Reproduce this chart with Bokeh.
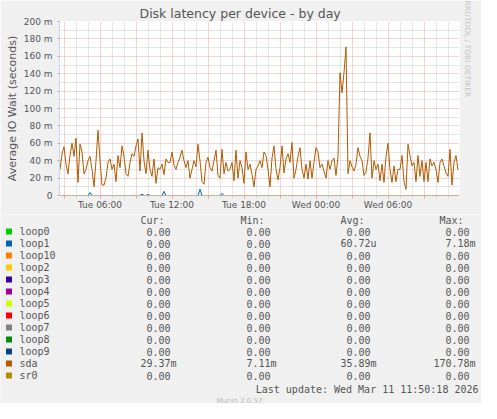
import numpy as np
import pandas as pd
from bokeh.plotting import figure
from bokeh.models import (Range1d, FixedTicker, CustomJSTickFormatter, Title, ColumnDataSource)
from bokeh.layouts import column, row
from bokeh.embed import file_html
from bokeh.resources import INLINE
from bokeh.core.properties import value

# ---------------- data ----------------
title_text = "Disk latency per device - by day"
y_axis_text = "Average IO Wait (seconds)"
side_text = "RRDTOOL / TOBI OETIKER"
last_update_text = "Last update: Wed Mar 11 11:50:18 2026"
version_text = "Munin 2.0.57"

series_names = ["loop0", "loop1", "loop10", "loop2", "loop3", "loop4", "loop5",
                "loop6", "loop7", "loop8", "loop9", "sda", "sr0"]
series_colors = ["#00CC00", "#0066B3", "#FF8000", "#FFCC00", "#330099", "#990099",
                 "#CCFF00", "#FF0000", "#808080", "#008F00", "#00487D", "#B35A00", "#B38F00"]
cur_values = [0, 0, 0, 0, 0, 0, 0, 0, 0, 0, 0, 29.37e-3, 0]
min_values = [0, 0, 0, 0, 0, 0, 0, 0, 0, 0, 0, 7.11e-3, 0]
avg_values = [0, 60.72e-6, 0, 0, 0, 0, 0, 0, 0, 0, 0, 35.89e-3, 0]
max_values = [0, 7.18e-3, 0, 0, 0, 0, 0, 0, 0, 0, 0, 170.78e-3, 0]
column_headers = ["Cur:", "Min:", "Avg:", "Max:"]

sample_start = "2026-03-10 02:40"
sample_step = "10min"

# sda average wait, milliseconds, one value every 10 minutes
sda_ms = [
    30, 48, 56, 36, 25, 46, 60, 45, 66, 15,
    59, 50, 25, 30, 40, 45, 30, 10, 40, 75,
    40, 12, 12, 20, 38, 42, 30, 36, 16, 46,
    32, 57, 45, 25, 22, 38, 48, 45, 57, 65,
    28, 72, 40, 25, 52, 30, 22, 42, 14, 32,
    30, 36, 24, 42, 38, 38, 50, 35, 30, 38,
    44, 52, 40, 32, 40, 20, 30, 40, 33, 59,
    40, 16, 13, 38, 44, 32, 28, 40, 52, 23,
    20, 53, 25, 38, 28, 30, 38, 17, 52, 20,
    40, 32, 14, 50, 30, 36, 24, 10, 30, 34,
    40, 32, 50, 46, 30, 10, 43, 57, 30, 18,
    32, 57, 26, 42, 48, 38, 61, 20, 30, 45,
    55, 30, 20, 36, 19, 40, 20, 38, 55, 50,
    32, 36, 28, 20, 40, 30, 40, 43, 23, 45,
    141, 118, 141, 170.78, 25, 40, 33, 28, 36, 55,
    45, 40, 23, 27, 43, 72, 20, 40, 30, 36,
    17, 36, 15, 45, 60, 30, 15, 34, 16, 30,
    30, 46, 16, 7.11, 59, 46, 34, 38, 16, 46,
    22, 40, 16, 38, 16, 42, 34, 38, 30, 15,
    38, 42, 34, 26, 22, 53, 12, 38, 46, 29.37,
]
# loop1: zero except for a few small spikes (sample index -> ms)
loop1_spike_index = [15, 41, 44, 52, 70, 81]
loop1_spike_ms = [3.5, 1.5, 1.2, 4.8, 7.18, 2.5]

y_tick_values = [0, 0.02, 0.04, 0.06, 0.08, 0.1, 0.12, 0.14, 0.16, 0.18, 0.2]
y_tick_labels = ["0", "20 m", "40 m", "60 m", "80 m", "100 m", "120 m",
                 "140 m", "160 m", "180 m", "200 m"]
x_label_times = ["2026-03-10 06:00", "2026-03-10 12:00", "2026-03-10 18:00",
                 "2026-03-11 00:00", "2026-03-11 06:00"]
x_tick_labels = ["Tue 06:00", "Tue 12:00", "Tue 18:00", "Wed 00:00", "Wed 06:00"]

# ---------------- build ----------------
n = len(sda_ms)
times = pd.date_range(sample_start, periods=n, freq=sample_step)
series = {name: np.zeros(n) for name in series_names}
series["sda"] = np.array(sda_ms, dtype=float) / 1000.0
for i, v in zip(loop1_spike_index, loop1_spike_ms):
    series["loop1"][i] = v / 1000.0

FONT = "DejaVu Sans"
MONO = "DejaVu Sans Mono"
TXT = "#555555"
BG = "#F0F0F0"

W, H1, H2 = 481, 214, 189
p = figure(width=W, height=H1, x_axis_type="datetime",
           x_range=Range1d(pd.Timestamp("2026-03-10 02:37:30"), pd.Timestamp("2026-03-11 11:57:30")),
           y_range=Range1d(0, 0.2),
           output_backend="svg", toolbar_location=None,
           min_border_left=59, min_border_right=22, min_border_top=21, min_border_bottom=19)
p.background_fill_color = "white"
p.border_fill_color = BG
p.outline_line_color = None

p.title.text = title_text
p.title.align = "left"
p.title.offset = 80
p.title.standoff = 2
p.title.text_font = FONT
p.title.text_font_size = "12.5px"
p.title.text_font_style = "normal"
p.title.text_color = TXT

p.add_layout(Title(text=side_text, align="left", offset=-21, standoff=6,
                   text_font=FONT, text_font_size="7.5px", text_font_style="normal",
                   text_color="#c4c4c4"), "right")

src = ColumnDataSource(dict(t=times, **series))
for name, col in zip(series_names, series_colors):
    p.line("t", name, source=src, line_color=col, line_width=1)

# axes / ticks
major_t = pd.date_range("2026-03-10 03:00", "2026-03-11 09:00", freq="3h")
minor_t = [t for t in pd.date_range("2026-03-10 03:00", "2026-03-11 11:00", freq="1h") if t.hour % 3]
to_ms = lambda ts: [pd.Timestamp(t).value / 1e6 for t in ts]
p.xaxis.ticker = FixedTicker(ticks=to_ms(major_t), minor_ticks=to_ms(minor_t))
p.xaxis.formatter = CustomJSTickFormatter(
    args=dict(tv=to_ms(x_label_times), tl=x_tick_labels),
    code="const i = tv.findIndex(t => Math.abs(t - tick) < 1000); return i < 0 ? '' : tl[i];")
y_minor = [v + 0.01 for v in y_tick_values[:-1]]
p.yaxis.ticker = FixedTicker(ticks=y_tick_values, minor_ticks=y_minor)
p.yaxis.formatter = CustomJSTickFormatter(
    args=dict(tv=y_tick_values, tl=y_tick_labels),
    code="const i = tv.findIndex(t => Math.abs(t - tick) < 1e-9); return i < 0 ? '' : tl[i];")

for ax in (p.xaxis[0], p.yaxis[0]):
    ax.major_label_text_font = FONT
    ax.major_label_text_font_size = "9px"
    ax.major_label_text_color = TXT
    ax.major_tick_in = 0
p.xaxis.axis_line_color = "#c2b494"
p.xaxis.major_tick_out = 3
p.xaxis.minor_tick_out = 2
p.xaxis.minor_tick_in = 0
p.xaxis.major_tick_line_color = "#e8a0a0"
p.xaxis.minor_tick_line_color = "#c8c8c8"
p.xaxis.major_label_standoff = 1
p.yaxis.axis_line_color = "#cfd6f8"
p.yaxis.major_tick_out = 2
p.yaxis.minor_tick_out = 0
p.yaxis.major_tick_line_color = "#b0b0b0"
p.yaxis.major_label_standoff = 5
p.yaxis.axis_label = y_axis_text
p.yaxis.axis_label_standoff = 2
p.yaxis.axis_label_text_font = FONT
p.yaxis.axis_label_text_font_size = "11px"
p.yaxis.axis_label_text_font_style = "normal"
p.yaxis.axis_label_text_color = TXT

for g in (p.xgrid[0], p.ygrid[0]):
    g.grid_line_color = "#eaa8a8"
    g.grid_line_dash = "1 1"
    g.minor_grid_line_color = "#cccccc"
    g.minor_grid_line_dash = "1 1"

# ---------------- legend figure ----------------
q = figure(width=W, height=H2, x_range=Range1d(8, 489), y_range=Range1d(411, 222),
           output_backend="svg", toolbar_location=None,
           min_border_left=0, min_border_right=0, min_border_top=0, min_border_bottom=0,
           x_axis_location=None, y_axis_location=None)
q.grid.visible = False
q.background_fill_color = BG
q.border_fill_color = BG
q.outline_line_color = None

def fmt(v):
    if v == 0:
        return "%.2f" % 0, ""
    if v >= 1e-3:
        return "%.2f" % (v * 1e3), "m"
    return "%.2f" % (v * 1e6), "u"

rows_y = [239 + 12 * k for k in range(len(series_names))]
header_x = [148, 248, 348, 447]
col_end = [178, 278, 378, 477]
q.text(x=header_x, y=[227.5] * 4, text=column_headers, text_font=value(MONO),
       text_font_size="10px", text_color=TXT, text_align="left", text_baseline="middle")
q.rect(x=[16.5] * len(rows_y), y=rows_y, width=6, height=6,
       fill_color=series_colors, line_color=None)
q.text(x=[27] * len(rows_y), y=rows_y, text=series_names, text_font=value(MONO),
       text_font_size="10px", text_color=TXT, text_align="left", text_baseline="middle")
xs, ys, ts = [], [], []
for vals, ce in zip([cur_values, min_values, avg_values, max_values], col_end):
    for v, yy in zip(vals, rows_y):
        num, suf = fmt(v)
        xs.append(ce + (6.02 if suf else 0))
        ys.append(yy)
        ts.append(num + suf)
q.text(x=xs, y=ys, text=ts, text_font=value(MONO), text_font_size="10px",
       text_color=TXT, text_align="right", text_baseline="middle")
q.text(x=[486], y=[396.5], text=[last_update_text], text_font=value(MONO),
       text_font_size="10px", text_color=TXT, text_align="right", text_baseline="middle")
q.text(x=[247], y=[408], text=[version_text], text_font=value(FONT),
       text_font_size="7px", text_color="#bbbbbb", text_align="center", text_baseline="middle")

layout = column(p, row(q), spacing=0)
html = file_html(layout, INLINE)
html = html.replace("<body>", '<body style="background-color:#f0f0f0;">', 1)
open("out.html", "w").write(html)
